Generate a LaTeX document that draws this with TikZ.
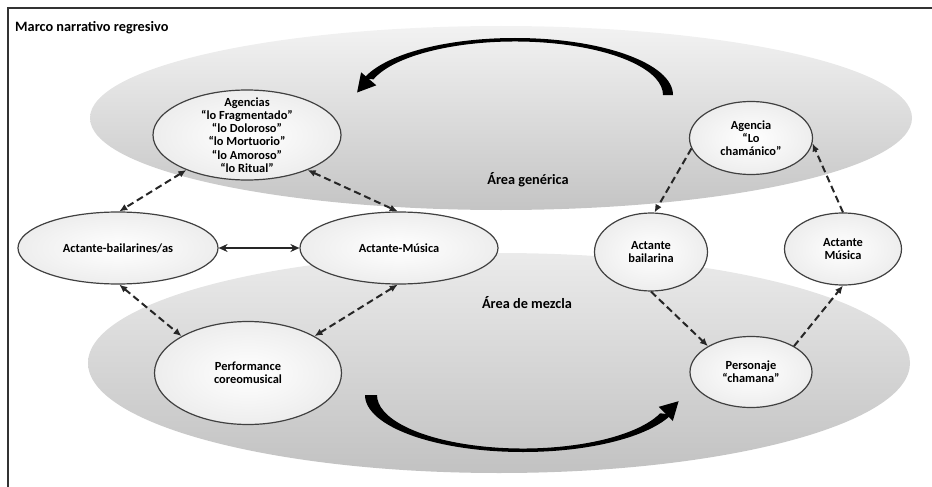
\documentclass[tikz,border=0pt]{standalone}
\usepackage{fontspec}
\setmainfont{Carlito}
\usetikzlibrary{shapes.geometric,arrows.meta}

\newcommand{\actfont}{\fontsize{12.4}{13.2}\selectfont\bfseries}
\newcommand{\areafont}{\fontsize{14.3}{16}\selectfont\bfseries}

\begin{document}
\begin{tikzpicture}[x=1pt,y=-1pt,
		actor/.style={ellipse, draw=black!75, line width=1.2pt, inner color=white, outer color=black!7, align=center, font=\actfont, inner sep=0pt},
		dashlink/.style={line width=2pt, dash pattern=on 7pt off 4pt, black!85},
		>={Latex[length=8pt,width=7pt]}]
		
		\useasboundingbox (0,0) rectangle (932,487);
		\draw[line width=1.6pt, black!80] (8,487) -- (8,8) -- (932,8);
		
		\shade[top color=black!5, bottom color=black!23] (501,118) ellipse[x radius=411, y radius=92];
		\shade[top color=black!8, bottom color=black!24] (499,363) ellipse[x radius=411, y radius=110];
		
		\node[font=\areafont, anchor=west, inner sep=0pt] (marco) at (15,28) {Marco narrativo regresivo};
		\node[font=\areafont] (generica) at (528,180) {Área genérica};
		\node[font=\areafont] (mezcla) at (527,303) {Área de mezcla};
		
		\fill (673,95) arc[start angle=0, end angle=-163, x radius=158, y radius=57]
			-- ([shift={(515,95)}]-163:148 and 53.5) arc[start angle=-163, end angle=0, x radius=148, y radius=53.5] -- cycle;
		\fill (357.1,92.5) -- (376.3,85.3) -- (361.1,72.3) -- cycle;
		\fill (365,395) arc[start angle=180, end angle=20, x radius=158, y radius=57]
			-- ([shift={(523,395)}]20:146 and 53.5) arc[start angle=20, end angle=180, x radius=146, y radius=53.5] -- cycle;
		\fill (678.6,401.2) -- (672.8,421.0) -- (658.8,406.8) -- cycle;
		
		\node[actor, minimum width=188, minimum height=90, inner ysep=-14pt] (agencias) at (247,135) {Agencias\\“lo Fragmentado”\\“lo Doloroso”\\“lo Mortuorio”\\“lo Amoroso”\\“lo Ritual”};
		\node[actor, minimum width=123, minimum height=73] (chamanico) at (751,138) {Agencia\\“Lo\\chamánico”};
		\node[actor, minimum width=200, minimum height=72] (bailarines) at (118,248) {Actante-bailarines/as};
		\node[actor, minimum width=198, minimum height=72] (musica) at (399,248) {Actante-Música};
		\node[actor, minimum width=113, minimum height=78] (bailarina) at (651,252) {Actante\\bailarina};
		\node[actor, minimum width=117, minimum height=72] (actmusica) at (843,249) {Actante\\Música};
		\node[actor, minimum width=187, minimum height=103] (performance) at (248,373) {Performance\\coreomusical};
		\node[actor, minimum width=122, minimum height=71] (personaje) at (751,372) {Personaje\\“chamana”};
		
		\draw[dashlink, <->] (agencias.210) -- (bailarines.88);
		\draw[dashlink, <->] (agencias.330) -- (musica.92);
		\draw[line width=1.8pt, black!85, {Stealth[length=9pt,width=8pt]}-{Stealth[length=9pt,width=8pt]}] (bailarines.east) -- (musica.west);
		\draw[dashlink, <->] (bailarines.272) -- (performance.151);
		\draw[dashlink, <->] (musica.268) -- (performance.29);
		\draw[dashlink, ->] (chamanico.190) -- (bailarina.85);
		\draw[dashlink, ->] (actmusica.90) -- (chamanico.355);
		\draw[dashlink, ->] (bailarina.270) -- (personaje.149);
		\draw[dashlink, ->] (personaje.31) -- (actmusica.270);
\end{tikzpicture}
\end{document}
